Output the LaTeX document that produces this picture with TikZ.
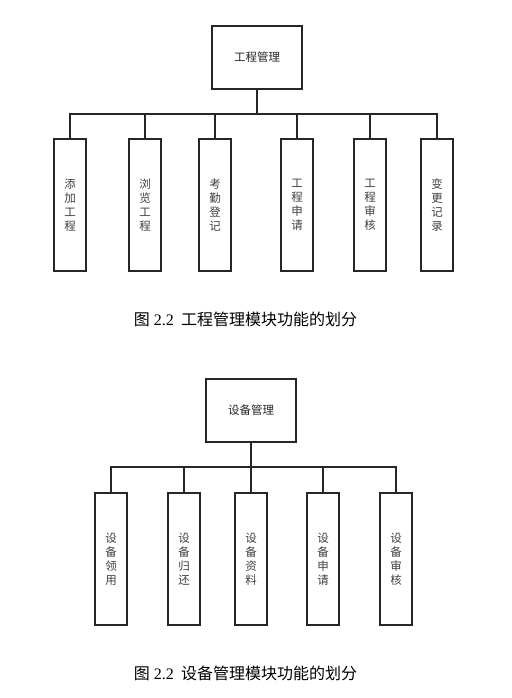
\documentclass[tikz,border=0pt]{standalone}
\usepackage{fontspec}
\setmainfont{Liberation Serif}
\newfontfamily\cjk{Noto Sans CJK SC}
\usetikzlibrary{positioning}

\tikzset{
	topbox/.style={rectangle, draw=black!85, line width=1.4pt, fill=white, minimum width=90bp, minimum height=63bp, inner sep=0pt, font=\cjk\fontsize{11.5bp}{14bp}\selectfont, text=black!85},
	subbox/.style={rectangle, draw=black!85, line width=1.4pt, fill=white, minimum width=32bp, minimum height=132bp, inner sep=0pt, align=center, font=\cjk\fontsize{11.5bp}{14bp}\selectfont, text=black!75},
	link/.style={draw=black!85, line width=1.4pt},
	caption/.style={font=\fontsize{16bp}{18bp}\selectfont}
}

\begin{document}
\begin{tikzpicture}[x=1bp, y=-1bp]
		\useasboundingbox (0,0) rectangle (512,698);
		
		% Draw the nodes (upper chart)
		\node[topbox] (gc) at (257,57.5) {工程管理};
		\node[subbox] (gc1) at (70,205) {添\\加\\工\\程};
		\node[subbox] (gc2) at (145,205) {浏\\览\\工\\程};
		\node[subbox] (gc3) at (215,205) {考\\勤\\登\\记};
		\node[subbox] (gc4) at (297,205) {工\\程\\申\\请};
		\node[subbox] (gc5) at (370,205) {工\\程\\审\\核};
		\node[subbox] (gc6) at (437,205) {变\\更\\记\\录};
		\coordinate (busa) at (257,114);
		
		% Draw the tree edges
		\draw[link] (gc.south) -- (busa);
		\foreach \i in {1,...,6}
			\draw[link] (gc\i.north) |- (busa);
		
		\node[caption] (cap1) at (245.5,319) {{\cjk 图} 2.2\hspace{0.45em}{\cjk 工程管理模块功能的划分}};
		
		% Draw the nodes (lower chart)
		\node[topbox] (sb) at (251,410.5) {设备管理};
		\node[subbox] (sb1) at (111,559) {设\\备\\领\\用};
		\node[subbox] (sb2) at (184,559) {设\\备\\归\\还};
		\node[subbox] (sb3) at (251,559) {设\\备\\资\\料};
		\node[subbox] (sb4) at (323,559) {设\\备\\申\\请};
		\node[subbox] (sb5) at (396,559) {设\\备\\审\\核};
		\coordinate (busb) at (251,467);
		
		% Draw the tree edges
		\draw[link] (sb.south) -- (busb);
		\foreach \i in {1,...,5}
			\draw[link] (sb\i.north) |- (busb);
		
		\node[caption] (cap2) at (245.5,673) {{\cjk 图} 2.2\hspace{0.45em}{\cjk 设备管理模块功能的划分}};
	\end{tikzpicture}
\end{document}
